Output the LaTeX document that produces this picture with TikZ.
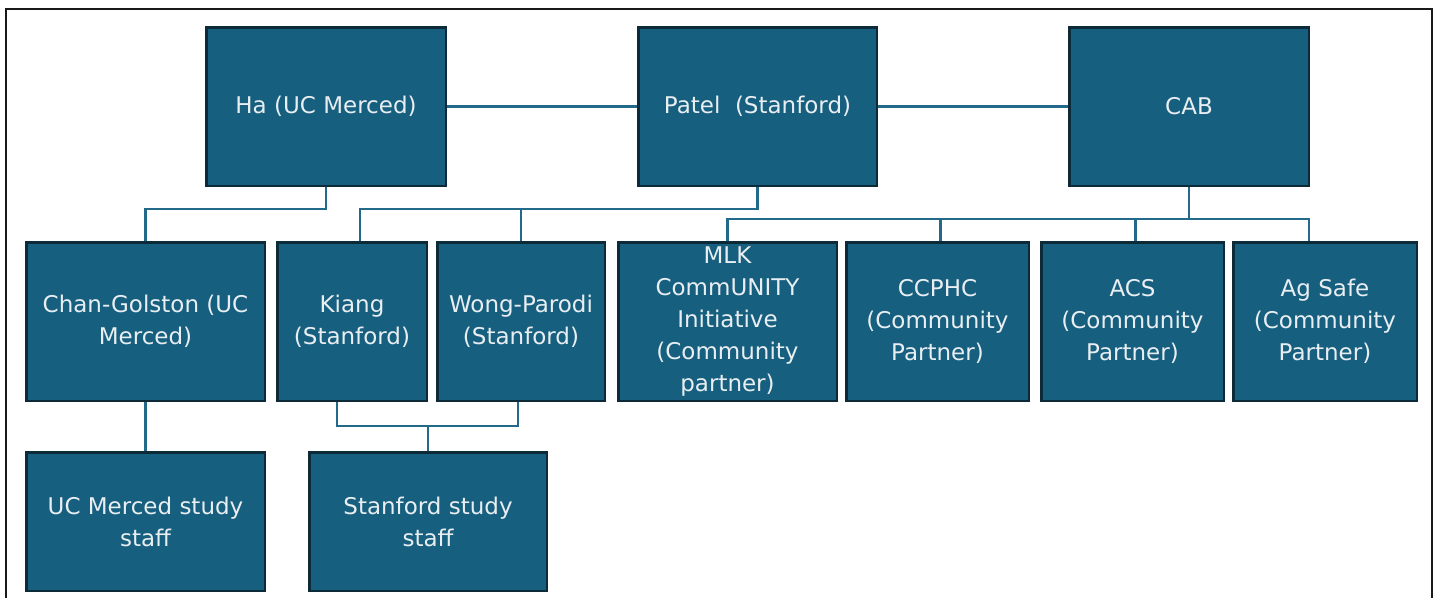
\documentclass[tikz,border=0pt]{standalone}
\usepackage{fontspec}
\setmainfont{DejaVu Sans}
\usetikzlibrary{positioning}

\definecolor{boxfill}{HTML}{175F7F}
\definecolor{boxline}{HTML}{0C2A38}
\definecolor{linkcol}{HTML}{23698A}
\definecolor{boxtext}{HTML}{E8EEF2}

\tikzset{
	box/.style={draw=boxline, fill=boxfill, line width=2.5pt, text=boxtext, align=center,
		inner sep=0pt, minimum height=158.5pt, font=\fontsize{23}{32}\selectfont},
	link/.style={draw=linkcol, line width=2.8pt},
}

\begin{document}
\begin{tikzpicture}[x=1pt,y=-1pt]
		\useasboundingbox (0,0) rectangle (1437,597);
		\draw[line width=2.2pt, black!90] (6,9) rectangle (1432,610);

		\node[box, minimum width=239.5pt, anchor=north west] (ha) at (205,26) {Ha (UC Merced)};
		\node[box, minimum width=238.5pt, right=190pt of ha] (patel) {Patel\ \ (Stanford)};
		\node[box, minimum width=239.5pt, right=190pt of patel] (cab) {CAB};

		\node[box, minimum width=238.5pt, anchor=north west] (chan) at (25,241) {Chan-Golston (UC\\Merced)};
		\node[box, minimum width=149.5pt, right=10pt of chan] (kiang) {Kiang\\(Stanford)};
		\node[box, minimum width=167.5pt, right=8pt of kiang] (wong) {Wong-Parodi\\(Stanford)};
		\node[box, minimum width=218.5pt, right=11pt of wong] (mlk) {MLK\\CommUNITY\\Initiative\\(Community\\partner)};
		\node[box, minimum width=182.5pt, right=7pt of mlk] (ccphc) {CCPHC\\(Community\\Partner)};
		\node[box, minimum width=182.5pt, right=10pt of ccphc] (acs) {ACS\\(Community\\Partner)};
		\node[box, minimum width=183.5pt, right=7pt of acs] (ag) {Ag Safe\\(Community\\Partner)};

		\node[box, minimum width=238.5pt, minimum height=138.5pt, below=49pt of chan] (ucstaff) {UC Merced study\\staff};
		\node[box, minimum width=237.5pt, minimum height=138.5pt, anchor=north west] (sustaff) at (308,451) {Stanford study\\staff};

		% top row
		\draw[link] (ha) -- (patel);
		\draw[link] (patel) -- (cab);

		% down to second row
		\draw[link] (ha.south) -- ++(0,22) -| (chan.north);
		\draw[link] (patel.south) -- ++(0,22) coordinate (pj) -| ([xshift=8pt]kiang.north);
		\draw[link] (pj) -| (wong.north);
		\draw[link] (cab.south) -- ++(0,32) coordinate (cj);
		\draw[link] (mlk.north) |- (cj) -| ([xshift=-16pt]ag.north);
		\draw[link] ([xshift=3pt]ccphc.north) -- ([xshift=3pt]ccphc.north |- cj);
		\draw[link] ([xshift=3pt]acs.north) -- ([xshift=3pt]acs.north |- cj);

		% study staff
		\draw[link] (chan) -- (ucstaff);
		\draw[link] ([xshift=-15pt]kiang.south) -- ++(0,24) coordinate (kj) -| ([xshift=-3pt]wong.south);
		\draw[link] (sustaff.north) -- (sustaff.north |- kj);
\end{tikzpicture}
\end{document}
